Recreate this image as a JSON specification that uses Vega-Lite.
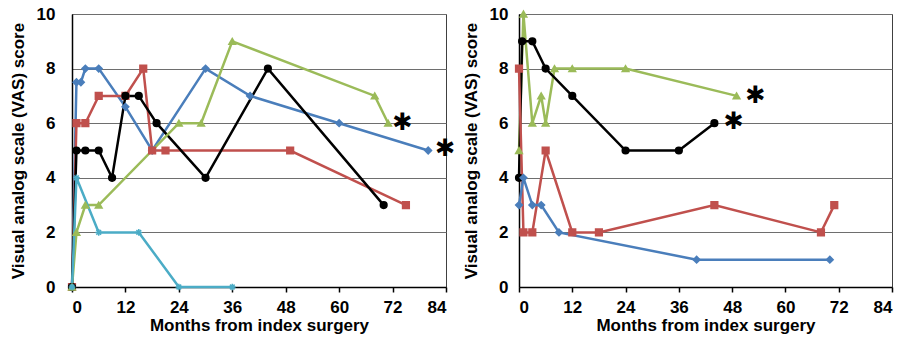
{
  "$schema": "https://vega.github.io/schema/vega-lite/v6.json",
  "background": "white",
  "padding": {"left": 8, "top": 4, "right": 2, "bottom": 2},
  "spacing": 5,
  "config": {
    "view": {"stroke": "#404040", "strokeWidth": 1},
    "font": "Liberation Sans",
    "axis": {
      "labelFont": "Liberation Sans", "labelFontWeight": "bold", "labelFontSize": 17, "labelColor": "#000",
      "titleFont": "Liberation Sans", "titleFontWeight": "bold", "titleFontSize": 17, "titleColor": "#000",
      "domainColor": "#000", "domainWidth": 1.5, "tickColor": "#000", "tickWidth": 1.5
    }
  },
  "datasets": {
    "vas": [
      {"panel": "L", "series": "blue", "month": 0, "value": 0},
      {"panel": "L", "series": "blue", "month": 1, "value": 7.5},
      {"panel": "L", "series": "blue", "month": 2, "value": 7.5},
      {"panel": "L", "series": "blue", "month": 3, "value": 8},
      {"panel": "L", "series": "blue", "month": 6, "value": 8},
      {"panel": "L", "series": "blue", "month": 12, "value": 6.6},
      {"panel": "L", "series": "blue", "month": 18, "value": 5},
      {"panel": "L", "series": "blue", "month": 30, "value": 8},
      {"panel": "L", "series": "blue", "month": 40, "value": 7},
      {"panel": "L", "series": "blue", "month": 60, "value": 6},
      {"panel": "L", "series": "blue", "month": 80, "value": 5},
      {"panel": "L", "series": "red", "month": 0, "value": 0},
      {"panel": "L", "series": "red", "month": 1, "value": 6},
      {"panel": "L", "series": "red", "month": 3, "value": 6},
      {"panel": "L", "series": "red", "month": 6, "value": 7},
      {"panel": "L", "series": "red", "month": 12, "value": 7},
      {"panel": "L", "series": "red", "month": 16, "value": 8},
      {"panel": "L", "series": "red", "month": 18, "value": 5},
      {"panel": "L", "series": "red", "month": 21, "value": 5},
      {"panel": "L", "series": "red", "month": 49, "value": 5},
      {"panel": "L", "series": "red", "month": 75, "value": 3},
      {"panel": "L", "series": "black", "month": 0, "value": 0},
      {"panel": "L", "series": "black", "month": 1, "value": 5},
      {"panel": "L", "series": "black", "month": 3, "value": 5},
      {"panel": "L", "series": "black", "month": 6, "value": 5},
      {"panel": "L", "series": "black", "month": 9, "value": 4},
      {"panel": "L", "series": "black", "month": 12, "value": 7},
      {"panel": "L", "series": "black", "month": 15, "value": 7},
      {"panel": "L", "series": "black", "month": 19, "value": 6},
      {"panel": "L", "series": "black", "month": 30, "value": 4},
      {"panel": "L", "series": "black", "month": 44, "value": 8},
      {"panel": "L", "series": "black", "month": 70, "value": 3},
      {"panel": "L", "series": "green", "month": 0, "value": 0},
      {"panel": "L", "series": "green", "month": 1, "value": 2},
      {"panel": "L", "series": "green", "month": 3, "value": 3},
      {"panel": "L", "series": "green", "month": 6, "value": 3},
      {"panel": "L", "series": "green", "month": 24, "value": 6},
      {"panel": "L", "series": "green", "month": 29, "value": 6},
      {"panel": "L", "series": "green", "month": 36, "value": 9},
      {"panel": "L", "series": "green", "month": 68, "value": 7},
      {"panel": "L", "series": "green", "month": 71, "value": 6},
      {"panel": "L", "series": "cyan", "month": 0, "value": 0},
      {"panel": "L", "series": "cyan", "month": 1, "value": 4},
      {"panel": "L", "series": "cyan", "month": 6, "value": 2},
      {"panel": "L", "series": "cyan", "month": 15, "value": 2},
      {"panel": "L", "series": "cyan", "month": 24, "value": 0},
      {"panel": "L", "series": "cyan", "month": 36, "value": 0},
      {"panel": "R", "series": "green", "month": 0, "value": 5},
      {"panel": "R", "series": "green", "month": 1, "value": 10},
      {"panel": "R", "series": "green", "month": 3, "value": 6},
      {"panel": "R", "series": "green", "month": 5, "value": 7},
      {"panel": "R", "series": "green", "month": 6, "value": 6},
      {"panel": "R", "series": "green", "month": 8, "value": 8},
      {"panel": "R", "series": "green", "month": 12, "value": 8},
      {"panel": "R", "series": "green", "month": 24, "value": 8},
      {"panel": "R", "series": "green", "month": 49, "value": 7},
      {"panel": "R", "series": "black", "month": 0, "value": 4},
      {"panel": "R", "series": "black", "month": 0.7, "value": 9},
      {"panel": "R", "series": "black", "month": 3, "value": 9},
      {"panel": "R", "series": "black", "month": 6, "value": 8},
      {"panel": "R", "series": "black", "month": 12, "value": 7},
      {"panel": "R", "series": "black", "month": 24, "value": 5},
      {"panel": "R", "series": "black", "month": 36, "value": 5},
      {"panel": "R", "series": "black", "month": 44, "value": 6},
      {"panel": "R", "series": "red", "month": 0, "value": 8},
      {"panel": "R", "series": "red", "month": 1, "value": 2},
      {"panel": "R", "series": "red", "month": 3, "value": 2},
      {"panel": "R", "series": "red", "month": 6, "value": 5},
      {"panel": "R", "series": "red", "month": 12, "value": 2},
      {"panel": "R", "series": "red", "month": 18, "value": 2},
      {"panel": "R", "series": "red", "month": 44, "value": 3},
      {"panel": "R", "series": "red", "month": 68, "value": 2},
      {"panel": "R", "series": "red", "month": 71, "value": 3},
      {"panel": "R", "series": "blue", "month": 0, "value": 3},
      {"panel": "R", "series": "blue", "month": 1, "value": 4},
      {"panel": "R", "series": "blue", "month": 3, "value": 3},
      {"panel": "R", "series": "blue", "month": 5, "value": 3},
      {"panel": "R", "series": "blue", "month": 9, "value": 2},
      {"panel": "R", "series": "blue", "month": 40, "value": 1},
      {"panel": "R", "series": "blue", "month": 70, "value": 1}
    ],
    "stars": [
      {"panel": "L", "month": 74.2, "value": 6, "label": "✱"},
      {"panel": "L", "month": 83.8, "value": 5.05, "label": "✱"},
      {"panel": "R", "month": 53.2, "value": 7, "label": "✱"},
      {"panel": "R", "month": 48.3, "value": 6.05, "label": "✱"}
    ]
  },
  "hconcat": [
    {
      "width": 374, "height": 273,
      "layer": [
        {
          "data": {"name": "vas"},
          "transform": [{"filter": "datum.panel === 'L'"}],
          "mark": {"type": "line", "strokeWidth": 2.5},
          "encoding": {
            "x": {"field": "month", "type": "quantitative", "scale": {"domain": [0, 84], "nice": false}, "axis": {"values": [0, 12, 24, 36, 48, 60, 72, 84], "title": "Months from index surgery", "grid": false, "tickSize": 5, "labelPadding": 7, "titlePadding": 2}},
            "y": {"field": "value", "type": "quantitative", "scale": {"domain": [0, 10], "nice": false}, "axis": {"values": [0, 2, 4, 6, 8, 10], "title": "Visual analog scale (VAS) score", "grid": true, "gridColor": "#6e6e6e", "gridWidth": 1.2, "ticks": false, "labelPadding": 17, "titlePadding": 9}},
            "color": {"field": "series", "type": "nominal", "scale": {"domain": ["blue", "red", "black", "green", "cyan"], "range": ["#4a7ebb", "#c0504d", "#000000", "#9bbb59", "#4bacc6"]}, "legend": null},
            "detail": {"field": "series"}
          }
        },
        {
          "data": {"name": "vas"},
          "transform": [{"filter": "datum.panel === 'L'"}],
          "mark": {"type": "point", "filled": true, "opacity": 1, "strokeWidth": 1.5},
          "encoding": {
            "x": {"field": "month", "type": "quantitative"},
            "y": {"field": "value", "type": "quantitative"},
            "color": {"field": "series", "type": "nominal", "legend": null},
            "stroke": {"field": "series", "type": "nominal", "scale": {"domain": ["blue", "red", "black", "green", "cyan"], "range": ["#4a7ebb", "#c0504d", "#000000", "#9bbb59", "#4bacc6"]}, "legend": null},
            "shape": {"field": "series", "type": "nominal", "scale": {"domain": ["blue", "red", "black", "green", "cyan"], "range": ["diamond", "square", "circle", "triangle-up", "M-1,0L1,0M0,-1L0,1M-0.7,-0.7L0.7,0.7M-0.7,0.7L0.7,-0.7"]}, "legend": null},
            "size": {"value": 45}
          }
        },
        {
          "data": {"name": "stars"},
          "transform": [{"filter": "datum.panel === 'L'"}],
          "mark": {"type": "text", "font": "DejaVu Sans", "fontWeight": "bold", "fontSize": 24, "baseline": "middle", "align": "center", "dy": 0, "color": "#000"},
          "encoding": {
            "x": {"field": "month", "type": "quantitative"},
            "y": {"field": "value", "type": "quantitative"},
            "text": {"field": "label"}
          }
        }
      ]
    },
    {
      "width": 373, "height": 273,
      "layer": [
        {
          "data": {"name": "vas"},
          "transform": [{"filter": "datum.panel === 'R'"}],
          "mark": {"type": "line", "strokeWidth": 2.5},
          "encoding": {
            "x": {"field": "month", "type": "quantitative", "scale": {"domain": [0, 84], "nice": false}, "axis": {"values": [0, 12, 24, 36, 48, 60, 72, 84], "title": "Months from index surgery", "grid": false, "tickSize": 5, "labelPadding": 7, "titlePadding": 2}},
            "y": {"field": "value", "type": "quantitative", "scale": {"domain": [0, 10], "nice": false}, "axis": {"values": [0, 2, 4, 6, 8, 10], "title": "Visual analog scale (VAS) score", "grid": true, "gridColor": "#6e6e6e", "gridWidth": 1.2, "ticks": false, "labelPadding": 11, "titlePadding": 9}},
            "color": {"field": "series", "type": "nominal", "scale": {"domain": ["blue", "red", "black", "green", "cyan"], "range": ["#4a7ebb", "#c0504d", "#000000", "#9bbb59", "#4bacc6"]}, "legend": null},
            "detail": {"field": "series"}
          }
        },
        {
          "data": {"name": "vas"},
          "transform": [{"filter": "datum.panel === 'R'"}],
          "mark": {"type": "point", "filled": true, "opacity": 1, "strokeWidth": 1.5},
          "encoding": {
            "x": {"field": "month", "type": "quantitative"},
            "y": {"field": "value", "type": "quantitative"},
            "color": {"field": "series", "type": "nominal", "legend": null},
            "stroke": {"field": "series", "type": "nominal", "scale": {"domain": ["blue", "red", "black", "green", "cyan"], "range": ["#4a7ebb", "#c0504d", "#000000", "#9bbb59", "#4bacc6"]}, "legend": null},
            "shape": {"field": "series", "type": "nominal", "scale": {"domain": ["blue", "red", "black", "green", "cyan"], "range": ["diamond", "square", "circle", "triangle-up", "M-1,0L1,0M0,-1L0,1M-0.7,-0.7L0.7,0.7M-0.7,0.7L0.7,-0.7"]}, "legend": null},
            "size": {"value": 45}
          }
        },
        {
          "data": {"name": "stars"},
          "transform": [{"filter": "datum.panel === 'R'"}],
          "mark": {"type": "text", "font": "DejaVu Sans", "fontWeight": "bold", "fontSize": 24, "baseline": "middle", "align": "center", "dy": 0, "color": "#000"},
          "encoding": {
            "x": {"field": "month", "type": "quantitative"},
            "y": {"field": "value", "type": "quantitative"},
            "text": {"field": "label"}
          }
        }
      ]
    }
  ]
}
